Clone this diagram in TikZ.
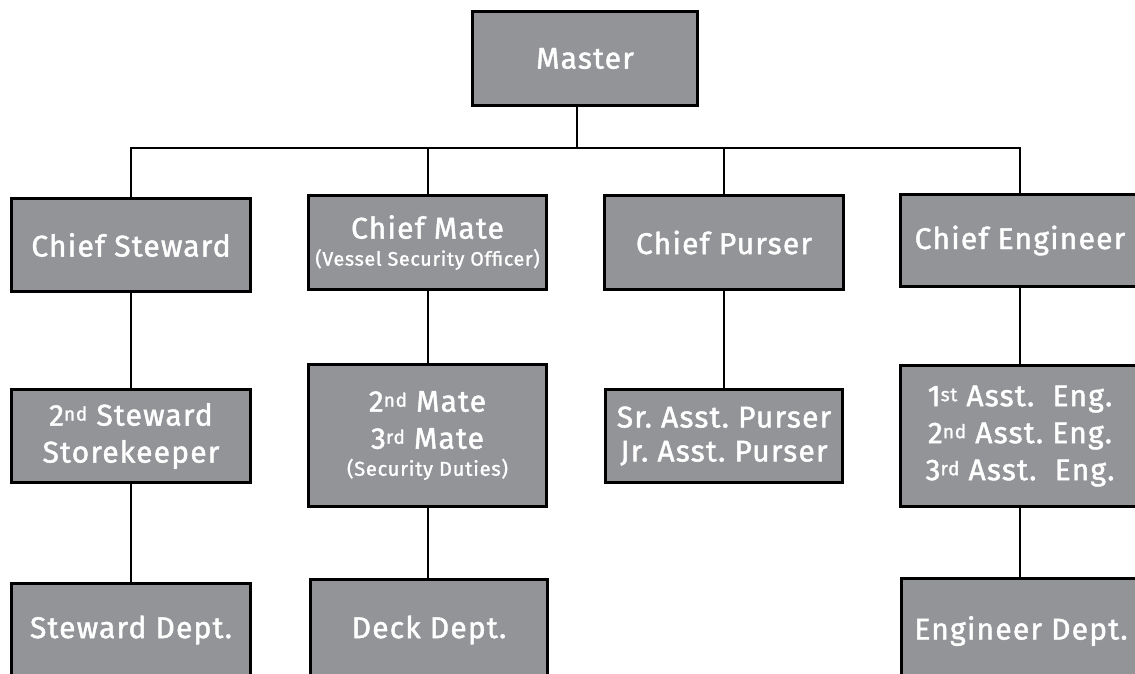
\documentclass[tikz,border=0pt]{standalone}
\usepackage{fontspec}
\setmainfont{Fira Sans}[FakeBold=1.5, LetterSpace=4]
\definecolor{boxgray}{RGB}{147,148,151}
\newcommand\supr[1]{\raisebox{5pt}{\fontsize{19}{19}\selectfont #1}}
\newcommand\smallA{\fontsize{19.5}{19.5}\selectfont}
\newcommand\smallB{\fontsize{20}{20}\selectfont}
\frenchspacing
\begin{document}
\begin{tikzpicture}[x=1pt,y=1pt,
  box/.style={draw=black, line width=3pt, fill=boxgray, text=white, align=center,
    inner sep=0pt, font=\fontsize{30}{37}\selectfont},
  link/.style={draw=black, line width=2pt}]
\useasboundingbox (0,0) rectangle (1135,-673);
\clip (0,0) rectangle (1135,-673);
% top
\node[box, minimum width=225, minimum height=94] (master) at (585,-58.5) {Master};
% row 1
\node[box, minimum width=239, minimum height=93] (steward) at (131,-245) {Chief Steward};
\node[box, minimum width=238, minimum height=94] (mate) at (427.5,-242.5) {Chief Mate\\[-10pt]{\smallA (Vessel Security Officer)}};
\node[box, minimum width=239, minimum height=94] (purser) at (724,-242.5) {Chief Purser};
\node[box, minimum width=239, minimum height=92] (engineer) at (1020,-240.5) {Chief Engineer};
% row 2
\node[box, minimum width=239, minimum height=93] (steward2) at (131,-436) {2\supr{nd} Steward\\Storekeeper};
\node[box, minimum width=238, minimum height=142] (mate2) at (427.5,-435.5) {2\supr{nd} Mate\\3\supr{rd} Mate\\[-10pt]{\smallB (Security Duties)}};
\node[box, minimum width=237, minimum height=93] (purser2) at (724,-436) {Sr. Asst. Purser\\[-3pt]Jr. Asst. Purser};
\node[box, minimum width=239, minimum height=141] (engineer2) at (1020,-436) {1\supr{st} Asst.\ \ Eng.\\2\supr{nd} Asst. Eng.\\3\supr{rd} Asst.\ \ Eng.};
% row 3
\node[box, minimum width=239, minimum height=93] (stewardd) at (131,-630) {Steward Dept.};
\node[box, minimum width=237, minimum height=101] (deckd) at (429,-630) {Deck Dept.};
\node[box, minimum width=239, minimum height=105] (engd) at (1021,-631) {Engineer Dept.};
% connectors
\coordinate (mj) at (577,-148);
\draw[link] (mj |- master.south) -- (mj);
\draw[link] (steward.north) |- (engineer.north |- mj) -- (engineer.north);
\draw[link] (mate.north) -- (mate.north |- mj);
\draw[link] (purser.north) -- (purser.north |- mj);
\draw[link] (steward.south) -- (steward2.north);
\draw[link] (mate.south) -- (mate2.north);
\draw[link] (purser.south) -- (purser2.north);
\draw[link] (engineer.south) -- (engineer2.north);
\draw[link] (steward2.south) -- (stewardd.north);
\draw[link] (mate2.south) -- (mate2.south |- deckd.north);
\draw[link] (engineer2.south) -- (engineer2.south |- engd.north);
\end{tikzpicture}
\end{document}
